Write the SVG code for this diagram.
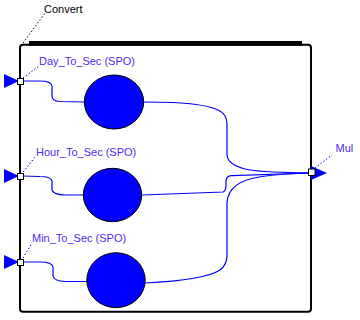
<svg xmlns="http://www.w3.org/2000/svg" width="360" height="320" viewBox="0 0 360 320">
<style>
.frame{fill:none;stroke:#000;stroke-width:2}
.wire{fill:none;stroke:#0000ff;stroke-width:1.2}
.blk{fill:#0000ff;stroke:#000;stroke-width:1}
.port{fill:#fff;stroke:#000;stroke-width:1}
.arr{fill:#0000ff}
.lead{fill:none;stroke:#000;stroke-width:1;stroke-dasharray:1.5 2}
.lead2{fill:none;stroke:#0000ff;stroke-width:1;stroke-dasharray:1.5 2}
.lbl{font-family:"Liberation Sans",Arial,sans-serif;font-size:11px;fill:#4a2cf5}
.ttl{font-family:"Liberation Sans",Arial,sans-serif;font-size:11px;fill:#000}
</style>
<rect width="360" height="320" fill="#fff"/>
<g id="Convert">
<rect class="frame" x="20" y="44.8" width="291" height="267" rx="3"/>
<rect x="29" y="41" width="273" height="4.8" fill="#000"/>
<path class="lead" d="M21,46 L45,13"/>
<text class="ttl" x="44" y="13">Convert</text>
</g>
<g id="connectors">
<path class="wire" d="M22,81 L40,81 Q51,81 52,86 L52,96 Q52,101 60,101.5 L84,102"/>
<path class="wire" d="M22,176 L40,176.5 Q51,176.5 52,181 L52,190 Q53,194.5 65,195 L83,195"/>
<path class="wire" d="M22,262 L40,262 Q52,262 53,267 L53,276 Q54,281 65,281.5 L87,281.5"/>
<path class="wire" d="M144,102 L173,102.5 Q205,104 218,110 Q227,114 227,124 L227,155 Q228,166 250,170 Q265,172.5 311,173"/>
<path class="wire" d="M142,195 L223,192 Q226,191 226,185 L226,180 Q227,175.8 232,175.7 L311,173"/>
<path class="wire" d="M145,283 Q205,280 220,270 Q227,265 227,255 L227,203 Q228,181 262,176.5 Q280,174 311,173"/>
</g>
<g id="Day_To_Sec">
<ellipse class="blk" cx="114" cy="102" rx="29.7" ry="27"/>
<path class="lead2" d="M23,78 L39,66"/>
<text class="lbl" x="39" y="64.5">Day_To_Sec (SPO)</text>
</g>
<g id="Hour_To_Sec">
<ellipse class="blk" cx="112.5" cy="195" rx="29.2" ry="26.7"/>
<path class="lead2" d="M23,172 L36,156"/>
<text class="lbl" x="36" y="156">Hour_To_Sec (SPO)</text>
</g>
<g id="Min_To_Sec">
<ellipse class="blk" cx="116" cy="280.2" rx="29.2" ry="27.5"/>
<path class="lead2" d="M23,258 L32,243"/>
<text class="lbl" x="32" y="242">Min_To_Sec (SPO)</text>
</g>
<g id="in1">
<polygon class="arr" points="4,74 4,88 19,81"/>
<rect class="port" x="17.5" y="78.5" width="6" height="6"/>
</g>
<g id="in2">
<polygon class="arr" points="4,169 4,183 19,176"/>
<rect class="port" x="17.5" y="173.5" width="6" height="6"/>
</g>
<g id="in3">
<polygon class="arr" points="4,255 4,269 19,262"/>
<rect class="port" x="17.5" y="259.5" width="6" height="6"/>
</g>
<g id="Mul">
<polygon class="arr" points="311,166 311,180 327,173"/>
<rect class="port" x="308.5" y="169" width="6.5" height="6.5"/>
<path class="lead2" d="M315,168 L332,155"/>
<text class="lbl" x="335.5" y="151.5">Mul</text>
</g>
</svg>
